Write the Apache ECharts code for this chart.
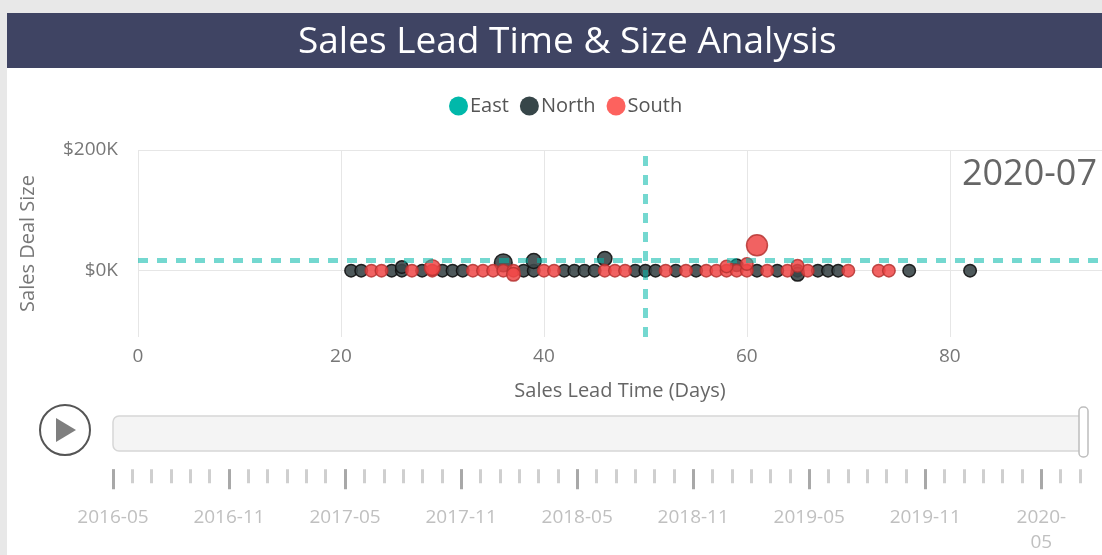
<!DOCTYPE html>
<html>
<head>
<meta charset="utf-8">
<script src="https://cdn.jsdelivr.net/npm/echarts@6/dist/echarts.min.js"></script>
<style>
html, body { margin: 0; padding: 0; background: #fff; }
#chart { width: 1102px; height: 555px; }
</style>
</head>
<body>
<div id="chart"></div>
<script>
// play axis months
const months = [
  '2016-05', '2016-06', '2016-07', '2016-08', '2016-09', '2016-10',
  '2016-11', '2016-12', '2017-01', '2017-02', '2017-03', '2017-04',
  '2017-05', '2017-06', '2017-07', '2017-08', '2017-09', '2017-10',
  '2017-11', '2017-12', '2018-01', '2018-02', '2018-03', '2018-04',
  '2018-05', '2018-06', '2018-07', '2018-08', '2018-09', '2018-10',
  '2018-11', '2018-12', '2019-01', '2019-02', '2019-03', '2019-04',
  '2019-05', '2019-06', '2019-07', '2019-08', '2019-09', '2019-10',
  '2019-11', '2019-12', '2020-01', '2020-02', '2020-03', '2020-04',
  '2020-05', '2020-06', '2020-07'
]

const leadTicks = [0, 20, 40, 60, 80]
const dealTicks = [0, 200000]

// North: lead time (days), deal size ($), bubble weight
const northDays = [21, 22, 25, 26, 28, 30, 31, 32, 38, 39, 42, 43, 44, 45, 49, 50, 51, 53, 55,
  61, 63, 65, 67, 68, 69, 76, 82, 26, 36, 39, 46, 59, 65]
const northDeals = [0, 0, 0, 0, 0, 0, 0, 0, 0, 0, 0, 0, 0, 0, 0, 0, 0, 0, 0,
  0, 0, 0, 0, 0, 0, 0, 0, 6000, 13000, 16000, 20000, 9000, -6000]
const northWeights = [1, 1, 1, 1, 1, 1, 1, 1, 1, 1, 1, 1, 1, 1, 1, 1, 1, 1, 1,
  1, 1, 1, 1, 1, 1, 1, 1, 1, 2, 1.4, 1.3, 1, 1.2]

// South
const southDays = [23, 24, 27, 29, 33, 34, 35, 36, 37, 40, 41, 46, 47, 48, 52, 54, 56, 57, 58,
  59, 60, 62, 64, 66, 70, 73, 74, 29, 37, 58, 60, 61, 65]
const southDeals = [0, 0, 0, 0, 0, 0, 0, 0, 0, 0, 0, 0, 0, 0, 0, 0, 0, 0, 0,
  0, 0, 0, 0, 0, 0, 0, 0, 5000, -6000, 7000, 11000, 42000, 8000]
const southWeights = [1, 1, 1, 1, 1, 1, 1, 1, 1, 1, 1, 1, 1, 1, 1, 1, 1, 1, 1,
  1, 1, 1, 1, 1, 1, 1, 1, 1.6, 1.2, 1, 1, 2.8, 1]

// East: no deals in this period
const eastDays = []
const eastDeals = []
const eastWeights = []

const avgLeadTime = 50
const avgDealSize = 18000

function toPoints(days, deals, weights) {
  return days.map((d, i) => [d, deals[i], weights[i]])
}

const font = "'Segoe UI', 'Open Sans', sans-serif"
const chart = echarts.init(document.getElementById('chart'))

const option = {
  backgroundColor: '#fff',
  textStyle: { fontFamily: font },
  animation: false,
  title: {
    text: 'Sales Lead Time & Size Analysis',
    left: 293,
    top: 19,
    z: 10,
    textStyle: { color: '#fff', fontSize: 37, fontWeight: 'normal', fontFamily: font }
  },
  legend: {
    left: 444,
    top: 91,
    icon: 'circle',
    itemWidth: 19,
    itemHeight: 19,
    itemGap: 11,
    textStyle: { fontSize: 20, color: '#555', padding: [0, 0, 0, -3] },
    data: [
      { name: 'East', itemStyle: { color: '#01B8AA', borderWidth: 0, opacity: 1 } },
      { name: 'North', itemStyle: { color: '#374649', borderWidth: 0, opacity: 1 } },
      { name: 'South', itemStyle: { color: '#FD625E', borderWidth: 0, opacity: 1 } }
    ]
  },
  grid: [
    { left: 138, right: 0, top: 150, bottom: 218 },
    { left: 113, right: 22, top: 469, height: 1 }
  ],
  xAxis: [
    {
      type: 'value',
      gridIndex: 0,
      min: 0,
      max: 95,
      name: 'Sales Lead Time (Days)',
      nameLocation: 'middle',
      nameGap: 44,
      nameTextStyle: { fontSize: 20, color: '#666' },
      axisLine: { show: false },
      axisTick: { show: false, customValues: leadTicks },
      axisLabel: { customValues: leadTicks, margin: 10, fontSize: 19, color: '#777' },
      splitLine: { lineStyle: { color: '#e6e6e6' } }
    },
    {
      // monthly ticks of the play axis
      type: 'category',
      gridIndex: 1,
      position: 'bottom',
      offset: 3,
      data: months,
      boundaryGap: false,
      axisLine: { show: false },
      axisTick: { interval: 0, length: 14, lineStyle: { color: '#cfcfcf', width: 3 } },
      axisLabel: { show: false },
      splitLine: { show: false }
    },
    {
      // half-year ticks + labels
      type: 'category',
      gridIndex: 1,
      position: 'bottom',
      data: months,
      boundaryGap: false,
      axisLine: { show: false },
      axisTick: { interval: 5, length: 20, lineStyle: { color: '#a8a8a8', width: 3 } },
      axisLabel: {
        interval: 5,
        margin: 36,
        fontSize: 19,
        color: '#c0c0c0',
        lineHeight: 25,
        formatter: (v, i) => (i === 48 ? v.replace('-', '-\n') : v)
      },
      splitLine: { show: false }
    }
  ],
  yAxis: [
    {
      type: 'value',
      gridIndex: 0,
      min: -110000,
      max: 200000,
      name: 'Sales Deal Size',
      nameLocation: 'middle',
      nameGap: 100,
      nameTextStyle: { fontSize: 20, color: '#777' },
      axisLine: { show: false },
      axisTick: { show: false, customValues: dealTicks },
      axisLabel: {
        customValues: dealTicks,
        margin: 20,
        fontSize: 19,
        color: '#777',
        formatter: (v) => '$' + v / 1000 + 'K'
      },
      splitLine: { lineStyle: { color: '#e6e6e6' } }
    },
    { type: 'value', gridIndex: 1, show: false }
  ],
  graphic: [
    { type: 'rect', shape: { x: 0, y: 0, width: 1102, height: 13 }, style: { fill: '#e8e8e8' } },
    { type: 'rect', shape: { x: 0, y: 0, width: 7, height: 555 }, style: { fill: '#e8e8e8' } },
    { type: 'rect', shape: { x: 7, y: 13, width: 1095, height: 55 }, style: { fill: '#3f4463' } },
    {
      type: 'rect',
      shape: { x: 113, y: 416, width: 972, height: 35, r: 6 },
      style: { fill: '#f4f4f4', stroke: '#d6d6d6', lineWidth: 1.5 }
    },
    {
      type: 'rect',
      z: 10,
      shape: { x: 1079, y: 407, width: 9, height: 50, r: 4 },
      style: { fill: '#fff', stroke: '#bdbdbd', lineWidth: 1.5 }
    },
    {
      type: 'circle',
      shape: { cx: 65, cy: 430, r: 25 },
      style: { fill: '#fff', stroke: '#555', lineWidth: 2 }
    },
    {
      type: 'polygon',
      shape: { points: [[56, 418], [56, 442], [76, 430]] },
      style: { fill: '#7f7f7f' }
    },
    {
      type: 'text',
      style: {
        text: months[months.length - 1],
        x: 1097,
        y: 175,
        align: 'right',
        verticalAlign: 'middle',
        fontSize: 36,
        fontFamily: font,
        fill: '#666'
      }
    }
  ],
  series: [
    {
      name: 'North',
      type: 'scatter',
      xAxisIndex: 0,
      yAxisIndex: 0,
      data: toPoints(northDays, northDeals, northWeights),
      symbolSize: (v) => 12.5 * Math.sqrt(v[2]),
      itemStyle: { color: '#3b4749', borderColor: '#111', borderWidth: 1.5, opacity: 0.9 }
    },
    {
      name: 'South',
      type: 'scatter',
      xAxisIndex: 0,
      yAxisIndex: 0,
      data: toPoints(southDays, southDeals, southWeights),
      symbolSize: (v) => 12.5 * Math.sqrt(v[2]),
      itemStyle: { color: '#ef4646', borderColor: '#b53230', borderWidth: 1.5, opacity: 0.85 }
    },
    {
      name: 'East',
      type: 'scatter',
      xAxisIndex: 0,
      yAxisIndex: 0,
      z: 5,
      data: toPoints(eastDays, eastDeals, eastWeights),
      symbolSize: (v) => 12.5 * Math.sqrt(v[2]),
      itemStyle: { color: '#01B8AA' },
      markLine: {
        silent: true,
        symbol: 'none',
        label: { show: false },
        lineStyle: { color: 'rgba(1,184,170,0.55)', width: 5, type: [10, 9] },
        data: [{ xAxis: avgLeadTime }, { yAxis: avgDealSize }]
      }
    }
  ]
}

chart.setOption(option)
</script>
</body>
</html>
